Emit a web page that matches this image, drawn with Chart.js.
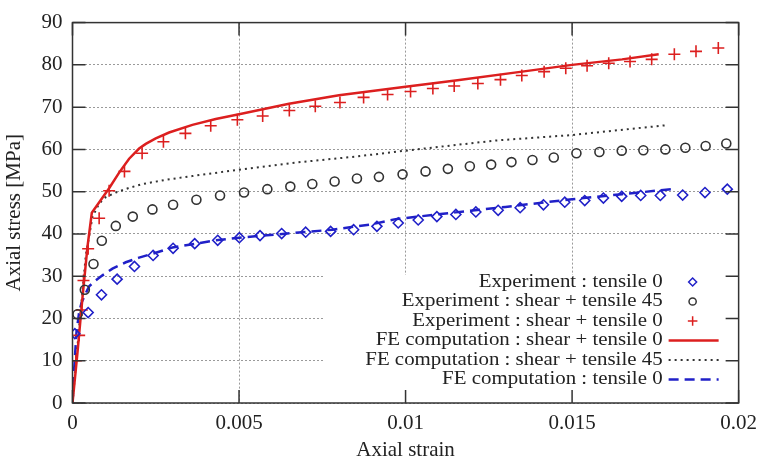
<!DOCTYPE html>
<html>
<head>
<meta charset="utf-8">
<script src="https://cdn.jsdelivr.net/npm/chart.js@4.4.1/dist/chart.umd.min.js"></script>
<style>
  html, body { margin: 0; padding: 0; background: #fff; }
</style>
</head>
<body>
<canvas id="stressChart" width="765" height="465"></canvas>
<script>
// ── DATA
const xTicks = [0, 0.005, 0.01, 0.015, 0.02];
const xTickLabels = ["0", "0.005", "0.01", "0.015", "0.02"];
const yTicks = [0, 10, 20, 30, 40, 50, 60, 70, 80, 90];
const yTickLabels = ["0", "10", "20", "30", "40", "50", "60", "70", "80", "90"];

// Experiment : tensile 0 (blue diamonds)
const expTensile0Strain = [0.00007, 0.00047, 0.00087, 0.00134, 0.00186, 0.00242, 0.00302, 0.00367, 0.00436, 0.00501, 0.00563, 0.00628, 0.007, 0.00775, 0.00844, 0.00914, 0.00978, 0.01038, 0.01094, 0.01151, 0.01211, 0.01278, 0.01344, 0.01414, 0.01478, 0.01538, 0.01594, 0.01649, 0.01706, 0.01765, 0.01832, 0.01899, 0.01966];
const expTensile0Stress = [16.4, 21.4, 25.6, 29.3, 32.3, 34.9, 36.6, 37.7, 38.5, 39.1, 39.6, 40.1, 40.4, 40.6, 41.0, 41.8, 42.6, 43.3, 44.1, 44.6, 45.2, 45.6, 46.2, 46.9, 47.5, 47.9, 48.5, 48.9, 49.1, 49.1, 49.2, 49.8, 50.6];

// Experiment : shear + tensile 45 (black circles)
const expShear45Strain = [0.00015, 0.00037, 0.00063, 0.00088, 0.0013, 0.00181, 0.0024, 0.00302, 0.00372, 0.00443, 0.00515, 0.00585, 0.00654, 0.0072, 0.00787, 0.00854, 0.0092, 0.00991, 0.0106, 0.01127, 0.01193, 0.01257, 0.01318, 0.01381, 0.01445, 0.01513, 0.01582, 0.01649, 0.01714, 0.0178, 0.0184, 0.01901, 0.01963];
const expShear45Stress = [21.0, 26.8, 32.9, 38.4, 41.9, 44.1, 45.8, 46.9, 48.1, 49.1, 49.8, 50.6, 51.2, 51.8, 52.4, 53.1, 53.5, 54.1, 54.8, 55.4, 56.0, 56.4, 57.0, 57.5, 58.1, 59.1, 59.4, 59.7, 59.8, 60.0, 60.4, 60.8, 61.4];

// Experiment : shear + tensile 0 (red crosses)
const expShear0Strain = [0.0001, 0.0002, 0.00028, 0.00033, 0.00047, 0.0008, 0.0011, 0.00156, 0.00209, 0.00273, 0.00339, 0.00415, 0.00495, 0.00571, 0.00651, 0.00729, 0.00803, 0.00874, 0.00946, 0.01015, 0.01082, 0.01146, 0.01217, 0.01285, 0.01349, 0.01416, 0.01481, 0.01545, 0.0161, 0.01674, 0.01739, 0.01807, 0.01872, 0.01939];
const expShear0Stress = [10, 16, 22, 29, 36.5, 43.7, 50.2, 54.8, 59.1, 61.8, 63.8, 65.6, 67.0, 67.9, 69.2, 70.2, 71.1, 72.3, 73.0, 73.7, 74.4, 75.0, 75.6, 76.5, 77.5, 78.4, 79.2, 79.8, 80.4, 80.8, 81.3, 82.5, 83.2, 84.0];

// FE computation : shear + tensile 0 (red solid)
const feShear0Strain = [0, 0.00015, 0.0003, 0.00045, 0.00058, 0.0011, 0.0014, 0.0017, 0.002, 0.0022, 0.0025, 0.0029, 0.0036, 0.0043, 0.005, 0.0065, 0.008, 0.01, 0.0115, 0.0135, 0.015, 0.0165, 0.0176];
const feShear0Stress = [0, 12, 25, 37, 45, 50.8, 54.5, 57.8, 60.2, 61.3, 62.6, 64.0, 65.8, 67.2, 68.3, 70.8, 72.8, 74.8, 76.3, 78.4, 80.0, 81.3, 82.5];

// FE computation : shear + tensile 45 (black dotted)
const feShear45Strain = [0, 0.0002, 0.0004, 0.0006, 0.0008, 0.001, 0.0013, 0.0017, 0.0021, 0.0028, 0.0036, 0.005, 0.0066, 0.0085, 0.01, 0.0127, 0.015, 0.0178];
const feShear45Stress = [0, 18, 35, 44, 47.2, 48.7, 49.8, 50.9, 51.8, 52.8, 53.7, 55.2, 56.8, 58.3, 59.7, 62.1, 63.4, 65.7];

// FE computation : tensile 0 (blue dashed)
const feTensile0Strain = [0, 0.00005, 0.00012, 0.0002, 0.00027, 0.0004, 0.0005, 0.0007, 0.0009, 0.0012, 0.0016, 0.002, 0.0024, 0.003, 0.0037, 0.0043, 0.005, 0.0063, 0.0078, 0.009, 0.0097, 0.0115, 0.013, 0.015, 0.0165, 0.018];
const feTensile0Stress = [0, 8, 16.8, 21.5, 23.7, 26.0, 27.6, 29.0, 30.2, 31.8, 33.3, 34.4, 35.3, 36.8, 37.7, 38.5, 39.1, 40, 41, 42.3, 43.5, 45.1, 46.4, 48.2, 49.4, 50.6];

const zip = (xs, ys) => xs.map((x, i) => ({ x, y: ys[i] }));

const RED = "#dc1f1f";
const BLUE = "#2020c8";
const BLACK = "#333333";
const FONT = "'Liberation Serif', 'DejaVu Serif', serif";

const datasets = [
  { label: "Experiment : tensile 0", data: zip(expTensile0Strain, expTensile0Stress),
    showLine: false, pointStyle: "rectRot", pointRadius: 5, borderColor: BLUE,
    backgroundColor: "rgba(0,0,0,0)", pointBorderWidth: 1.6 },
  { label: "Experiment : shear + tensile 45", data: zip(expShear45Strain, expShear45Stress),
    showLine: false, pointStyle: "circle", pointRadius: 4.5, borderColor: BLACK,
    backgroundColor: "rgba(0,0,0,0)", pointBorderWidth: 1.6 },
  { label: "Experiment : shear + tensile 0", data: zip(expShear0Strain, expShear0Stress),
    showLine: false, pointStyle: "cross", pointRadius: 6, borderColor: RED,
    backgroundColor: RED, pointBorderWidth: 1.6 },
  { label: "FE computation : shear + tensile 0", data: zip(feShear0Strain, feShear0Stress),
    showLine: true, pointRadius: 0, borderColor: RED, borderWidth: 2.5, tension: 0 },
  { label: "FE computation : shear + tensile 45", data: zip(feShear45Strain, feShear45Stress),
    showLine: true, pointRadius: 0, borderColor: BLACK, borderWidth: 2,
    borderDash: [2, 4], tension: 0 },
  { label: "FE computation : tensile 0", data: zip(feTensile0Strain, feTensile0Stress),
    showLine: true, pointRadius: 0, borderColor: BLUE, borderWidth: 2.5,
    borderDash: [10, 6], tension: 0 },
];

// ── GNUPLOT-STYLE KEY, FRAME AND INWARD TICKS
const keyBox = {
  id: "keyBox",
  beforeDatasetsDraw(chart) {
    const { ctx, chartArea: a } = chart;
    ctx.save();
    ctx.fillStyle = "#fff";
    ctx.fillRect(a.left + 251.5, a.bottom - 128, a.right - a.left - 251.5, 128);
    ctx.restore();
  },
  afterDraw(chart) {
    const { ctx, chartArea: a } = chart;
    const xs = chart.scales.x, ys = chart.scales.y;
    ctx.save();

    // legend entries (text slightly stretched like the original)
    const stretch = 1.1;
    chart.data.datasets.forEach((ds, i) => {
      const y = a.bottom - 121 + i * 19.5;
      ctx.save();
      ctx.translate(a.right - 76, y);
      ctx.scale(stretch, 1);
      ctx.font = "19px " + FONT;
      ctx.textAlign = "right";
      ctx.textBaseline = "middle";
      ctx.fillStyle = "#222";
      ctx.fillText(ds.label, 0, 0);
      ctx.restore();
      if (ds.showLine) {
        ctx.strokeStyle = ds.borderColor;
        ctx.lineWidth = ds.borderWidth;
        ctx.setLineDash(ds.borderDash || []);
        ctx.beginPath();
        ctx.moveTo(a.right - 70, y);
        ctx.lineTo(a.right - 20, y);
        ctx.stroke();
        ctx.setLineDash([]);
      } else {
        ctx.strokeStyle = ds.borderColor;
        ctx.fillStyle = ds.backgroundColor;
        ctx.lineWidth = 1.5;
        Chart.helpers.drawPoint(ctx, {
          pointStyle: ds.pointStyle, radius: ds.pointRadius * 0.8,
          borderWidth: 1.5, rotation: 0
        }, a.right - 46, y);
      }
    });

    // frame and mirrored inward ticks
    ctx.strokeStyle = "#333";
    ctx.lineWidth = 1.5;
    ctx.setLineDash([]);
    ctx.strokeRect(a.left, a.top, a.right - a.left, a.bottom - a.top);
    const t = 13;
    ctx.beginPath();
    xTicks.forEach((v) => {
      const px = xs.getPixelForValue(v);
      ctx.moveTo(px, a.bottom); ctx.lineTo(px, a.bottom - t);
      ctx.moveTo(px, a.top); ctx.lineTo(px, a.top + t);
    });
    yTicks.forEach((v) => {
      const py = ys.getPixelForValue(v);
      ctx.moveTo(a.left, py); ctx.lineTo(a.left + t, py);
      ctx.moveTo(a.right, py); ctx.lineTo(a.right - t, py);
    });
    ctx.stroke();
    ctx.restore();
  }
};

const gridStyle = { color: "#9a9a9a", lineWidth: 1, drawTicks: false };

new Chart(document.getElementById("stressChart"), {
  type: "scatter",
  data: { datasets },
  options: {
    responsive: false,
    animation: false,
    layout: { padding: { left: 0, right: 17, top: 12, bottom: 0 }, autoPadding: false },
    plugins: { legend: { display: false }, tooltip: { enabled: false } },
    scales: {
      x: {
        type: "linear", min: 0, max: 0.02,
        afterBuildTicks: (s) => { s.ticks = xTicks.map((v) => ({ value: v })); },
        afterFit: (s) => { s.height = 62; },
        grid: gridStyle,
        border: { display: false, dash: [2, 2] },
        ticks: {
          padding: 8, color: "#222", font: { family: FONT, size: 21 },
          maxRotation: 0, autoSkip: false,
          callback: (v, i) => xTickLabels[i]
        },
        title: { display: true, text: "Axial strain", color: "#222",
          font: { family: FONT, size: 21 }, padding: { top: 0, bottom: 2 } }
      },
      y: {
        type: "linear", min: 0, max: 90,
        afterBuildTicks: (s) => { s.ticks = yTicks.map((v) => ({ value: v })); },
        afterFit: (s) => { s.width = 72.5; },
        grid: gridStyle,
        border: { display: false, dash: [2, 2] },
        ticks: {
          padding: 10, color: "#222", font: { family: FONT, size: 21 },
          autoSkip: false,
          callback: (v, i) => yTickLabels[i]
        },
        title: { display: true, text: "Axial stress [MPa]", color: "#222",
          font: { family: FONT, size: 21 }, padding: { top: 2, bottom: 0 } }
      }
    }
  },
  plugins: [keyBox]
});
</script>
</body>
</html>
